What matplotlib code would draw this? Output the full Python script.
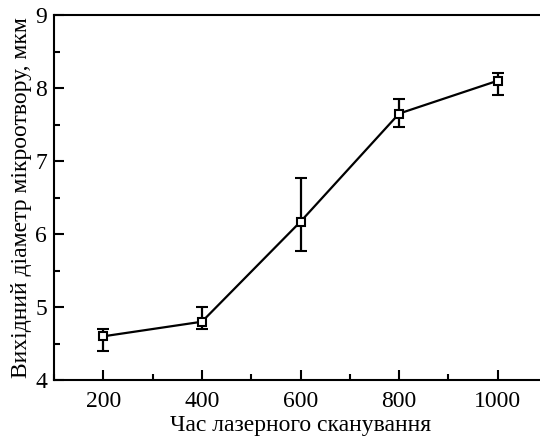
import matplotlib
matplotlib.use("Agg")
import matplotlib.pyplot as plt
from matplotlib.ticker import MultipleLocator

plt.rcParams['font.family'] = ['Liberation Serif', 'DejaVu Serif']

scan_time = [200, 400, 600, 800, 1000]
diameter = [4.6, 4.8, 6.17, 7.65, 8.1]
err_low = [0.2, 0.1, 0.4, 0.18, 0.2]
err_high = [0.1, 0.2, 0.6, 0.2, 0.1]

fig = plt.figure(figsize=(5.4, 4.41), dpi=100)
ax = fig.add_axes([0.1, 0.138, 0.913, 0.828])

ax.errorbar(scan_time, diameter, yerr=[err_low, err_high], color="black",
            lw=1.6, elinewidth=1.6, capsize=4, capthick=1.6,
            marker="s", ms=6, mfc="white", mec="black", mew=1.5)

ax.set_xlim(100, 1100)
ax.set_ylim(4, 9)
ax.xaxis.set_major_locator(MultipleLocator(200))
ax.xaxis.set_minor_locator(MultipleLocator(100))
ax.yaxis.set_major_locator(MultipleLocator(1))
ax.yaxis.set_minor_locator(MultipleLocator(0.5))
ax.tick_params(which="both", direction="in", width=1.5, labelsize=17)
ax.tick_params(which="major", length=7)
ax.tick_params(axis="x", which="major", pad=8)
ax.tick_params(axis="y", which="major", pad=5)
ax.tick_params(which="minor", length=4)
for s in ax.spines.values():
    s.set_linewidth(1.5)

ax.set_xlabel("Час лазерного сканування", fontsize=17, labelpad=2)
ax.set_ylabel("Вихідний діаметр мікроотвору, мкм", fontsize=17, labelpad=2)

fig.savefig("out.png", dpi=100)
